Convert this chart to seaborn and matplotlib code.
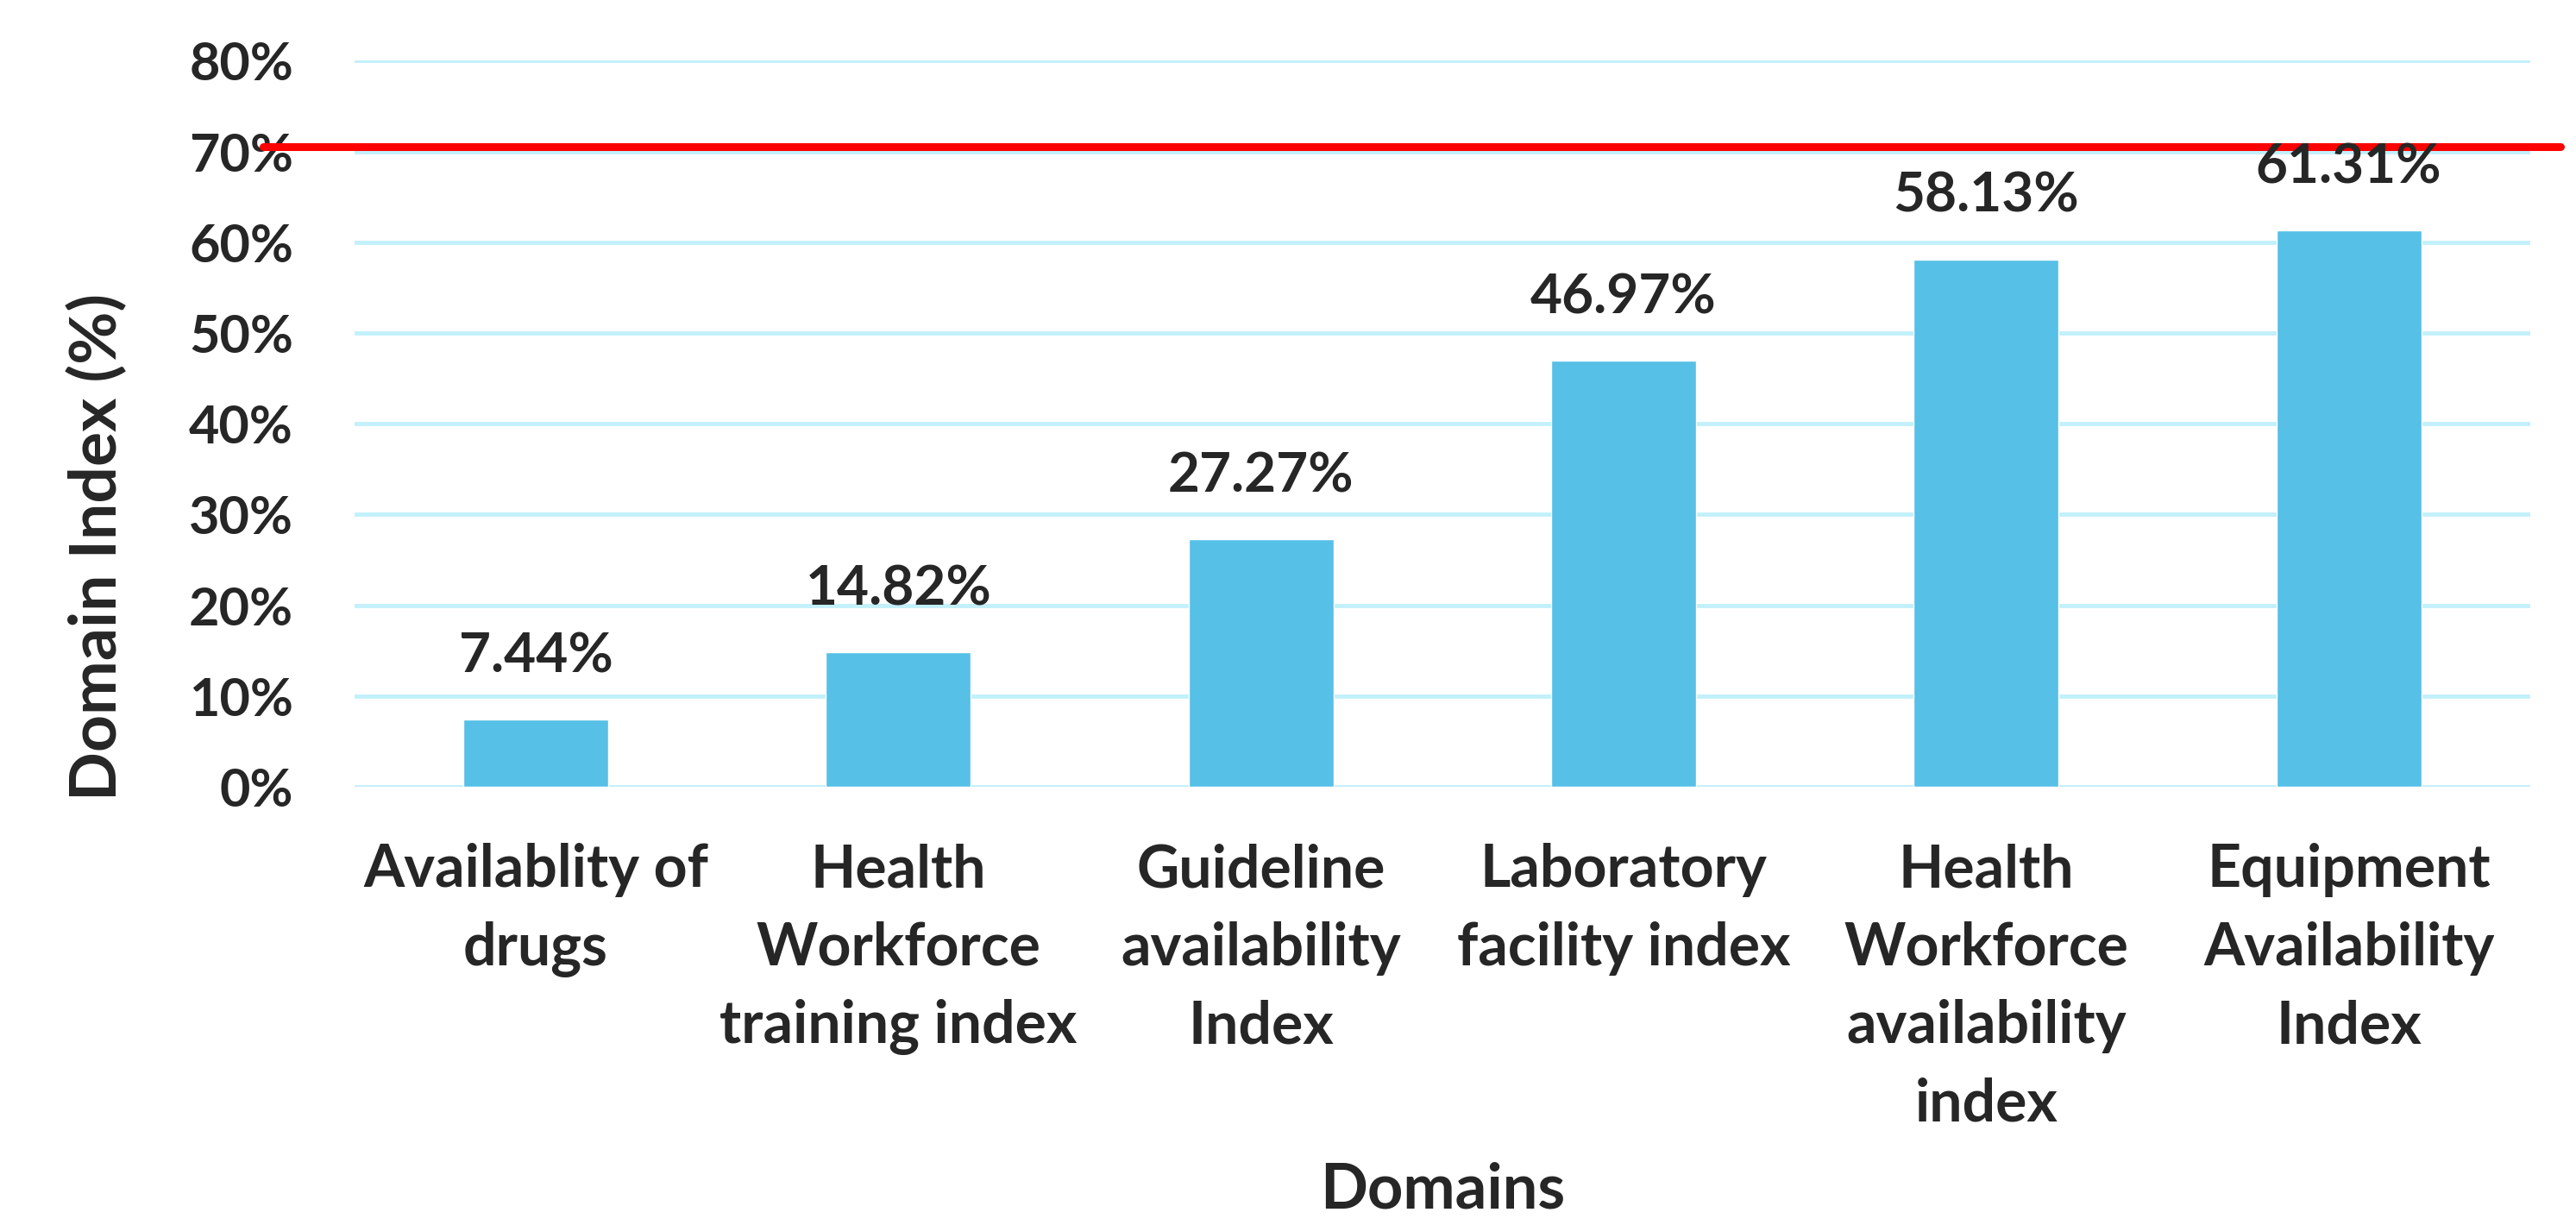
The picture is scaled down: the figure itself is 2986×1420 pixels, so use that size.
import pandas as pd
import numpy as np
import matplotlib
matplotlib.use("Agg")
import matplotlib.pyplot as plt
import seaborn as sns

# data
domains = ["Availablity of\ndrugs", "Health\nWorkforce\ntraining index",
           "Guideline\navailability\nIndex", "Laboratory\nfacility index",
           "Health\nWorkforce\navailability\nindex", "Equipment\nAvailability\nIndex"]
index_values = [7.44, 14.82, 27.27, 46.97, 58.13, 61.31]
value_labels = ["7.44%", "14.82%", "27.27%", "46.97%", "58.13%", "61.31%"]
y_ticks = [0, 10, 20, 30, 40, 50, 60, 70, 80]
y_tick_labels = ["0%", "10%", "20%", "30%", "40%", "50%", "60%", "70%", "80%"]
target = 70.5

df = pd.DataFrame({"Domain": domains, "Index": index_values})

sns.set_theme(style="white")
plt.rcParams["font.family"] = ["Lato", "DejaVu Sans"]
plt.rcParams["font.weight"] = "bold"

fig = plt.figure(figsize=(29.86, 14.20), dpi=100)
ax = fig.add_axes([0.1376, 0.3577, 0.8446, 0.5927])

sns.barplot(data=df, x="Domain", y="Index", color="#56C0E7", saturation=1,
            width=0.4, ax=ax, zorder=3)

ax.set_ylim(0, 80)
ax.set_yticks(y_ticks)
ax.set_yticklabels(y_tick_labels, fontsize=44, fontweight="bold")
ax.yaxis.grid(True, color="#C2F0FB", linewidth=3.5, zorder=0)
ax.set_axisbelow(True)
for s in ax.spines.values():
    s.set_visible(False)
ax.tick_params(axis="both", length=0)
ax.tick_params(axis="y", pad=51)
ax.tick_params(axis="x", pad=47)
for lbl in ax.get_xticklabels():
    lbl.set_fontsize(49)
    lbl.set_fontweight("bold")
    lbl.set_linespacing(1.54)

# value labels above bars
for i, (v, t) in enumerate(zip(index_values, value_labels)):
    ax.text(i, v + 5.2, t, ha="center", va="baseline", fontsize=46,
            fontweight="bold", zorder=5)

# red target line
ax.axhline(target, xmin=-0.042, xmax=1.014, color="#FF0000", linewidth=6.5,
           clip_on=False, zorder=4)

ax.set_xlabel("Domains", fontsize=52, fontweight="bold", va="baseline")
ax.set_ylabel("Domain Index (%)", fontsize=54, fontweight="bold")
ax.xaxis.set_label_coords(0.5, -0.58)
ax.yaxis.set_label_coords(-0.104, 0.33)

fig.savefig("out.png", dpi=100)
